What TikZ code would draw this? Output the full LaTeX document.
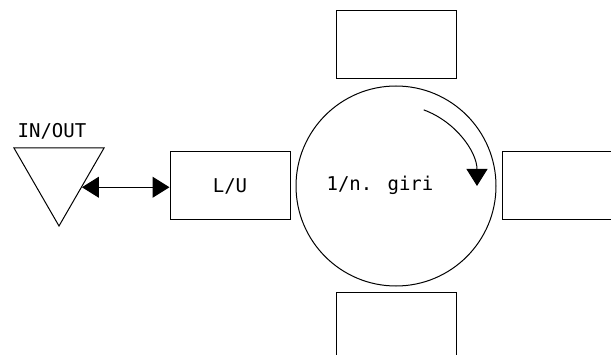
\documentclass[tikz,border=0pt]{standalone}
\usepackage{fontspec}
\newfontfamily\cadfont{DejaVu Sans Mono}
\usetikzlibrary{arrows.meta,positioning,shapes.geometric}

\begin{document}
\begin{tikzpicture}[
  x=0.5pt, y=0.5pt,
  line width=0.5pt,
  font=\cadfont\fontsize{9.5}{11}\selectfont,
  box/.style={draw,minimum width=60pt,minimum height=34pt,inner sep=0pt},
  wheel/.style={draw,circle,minimum size=100pt,inner sep=0pt},
  port/.style={draw,regular polygon,regular polygon sides=3,shape border rotate=180,minimum size=52pt,inner sep=0pt},
  arr/.style={-{Triangle[length=8.5pt,width=10.5pt]}},
  dblarr/.style={{Triangle[length=8.5pt,width=10.5pt]}-{Triangle[length=8.5pt,width=10.5pt]}}
]
  \useasboundingbox (0,0) rectangle (611,354);
  \clip (0,0) rectangle (611,354);

  \node[wheel] (giro) at (396,168) {};
  \node[anchor=base] (ratio) at (380,163) {1/n. giri};

  \node[box, above=3pt of giro] (top) {};
  \node[box, below=2.5pt of giro] (bottom) {};
  \node[box, right=2.5pt of giro] (right) {};
  \node[box, left=2.5pt of giro] (lu) {L/U};

  \node[port] (inout) at (59,180) {};
  \node[anchor=base, inner sep=0pt] (inoutlbl) at (52,216) {IN/OUT};

  % double arrow from the port to L/U
  \draw[dblarr] (inout.side 1) -- (inout.side 1 -| lu.west);

  % rotation arrow inside the wheel
  \draw[arr] ([shift={(70:40.5pt)}]giro.center) arc[start angle=70, end angle=0, radius=40.5pt];
\end{tikzpicture}
\end{document}
